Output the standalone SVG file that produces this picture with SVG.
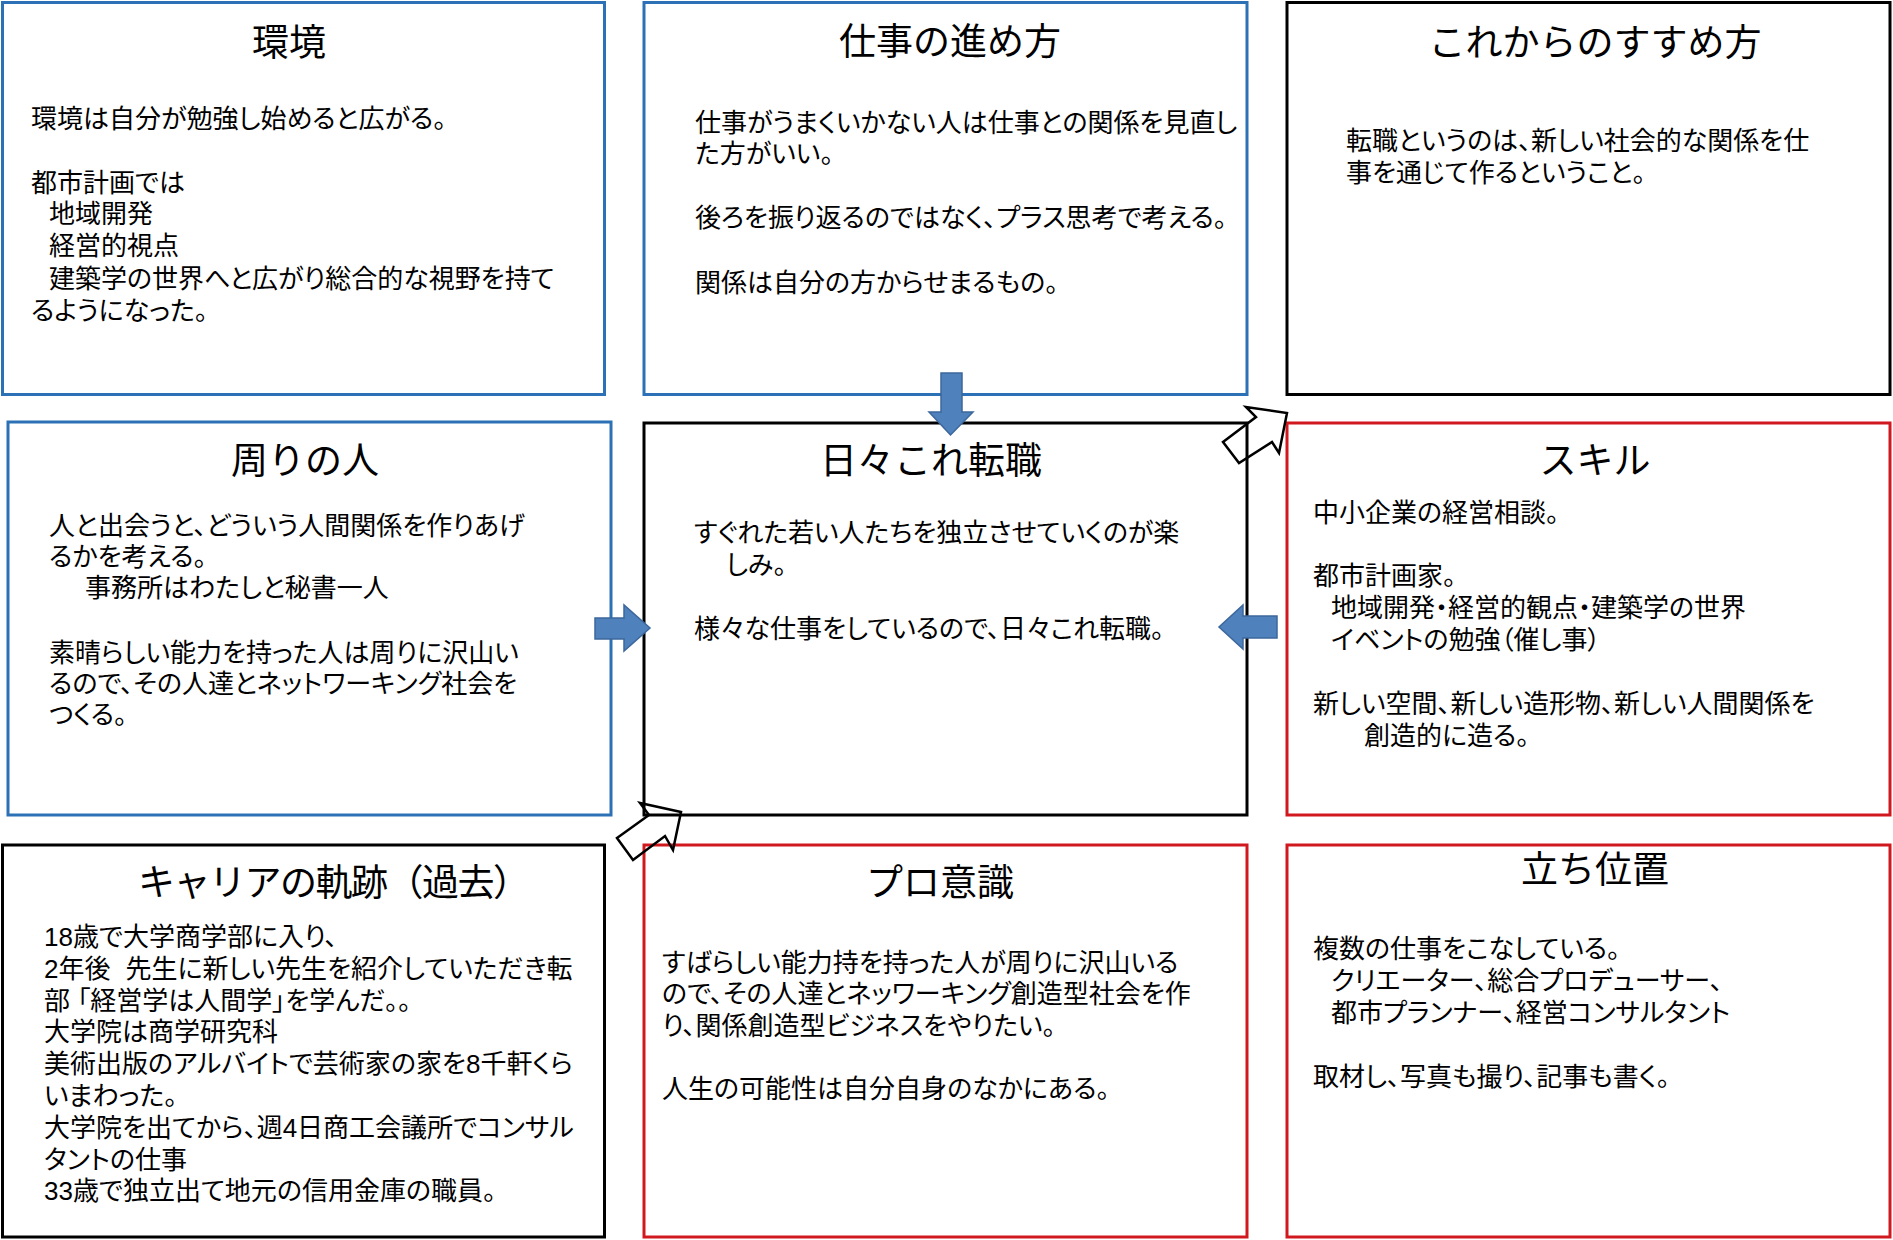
<svg xmlns="http://www.w3.org/2000/svg" width="1893" height="1240" viewBox="0 0 1893 1240">
<style>
.t{font-family:"Noto Sans CJK JP","Noto Sans CJK SC",sans-serif;fill:#000}
.ti{font-size:37px;text-anchor:middle}
.b{font-family:"Liberation Sans","Noto Sans CJK JP","Noto Sans CJK SC",sans-serif;font-size:26px;font-feature-settings:"palt" 1}
.bx{fill:none;stroke-width:3}
.blue{stroke:#2C70B5}
.red{stroke:#D0181E}
.blk{stroke:#000}
.ba{fill:#4F81BD;stroke:#3C679B;stroke-width:1.5}
.oa{fill:none;stroke:#000;stroke-width:2.5;stroke-linejoin:miter}
</style>
<rect width="1893" height="1240" fill="#fff"/>
<g id="kankyo">
<rect class="bx blue" x="2.5" y="2.5" width="602" height="392"/>
<text class="t ti" x="289" y="56">環境</text>
<text class="t b"><tspan x="31" y="128">環境は自分が勉強し始めると広がる。</tspan><tspan x="31" y="192">都市計画では</tspan><tspan x="49" y="223">地域開発</tspan><tspan x="49" y="255">経営的視点</tspan><tspan x="49" y="288">建築学の世界へと広がり総合的な視野を持て</tspan><tspan x="31" y="320">るようになった。</tspan></text>
</g>
<g id="shigoto">
<rect class="bx blue" x="644" y="2.5" width="603" height="392"/>
<text class="t ti" x="950" y="55">仕事の進め方</text>
<text class="t b"><tspan x="695" y="132">仕事がうまくいかない人は仕事との関係を見直し</tspan><tspan x="695" y="163">た方がいい。</tspan></text>
<text class="t b" x="695" y="227">後ろを振り返るのではなく、プラス思考で考える。</text>
<text class="t b" x="695" y="292">関係は自分の方からせまるもの。</text>
</g>
<g id="korekara">
<rect class="bx blk" x="1287" y="2.5" width="603" height="392"/>
<text class="t ti" x="1595" y="56">これからのすすめ方</text>
<text class="t b"><tspan x="1346" y="150">転職というのは、新しい社会的な関係を仕</tspan><tspan x="1346" y="182">事を通じて作るということ。</tspan></text>
</g>
<g id="mawari">
<rect class="bx blue" x="8" y="422" width="603" height="393"/>
<text class="t ti" x="305" y="474">周りの人</text>
<text class="t b"><tspan x="49" y="535">人と出会うと、どういう人間関係を作りあげ</tspan><tspan x="49" y="566">るかを考える。</tspan><tspan x="85" y="597">事務所はわたしと秘書一人</tspan></text>
<text class="t b"><tspan x="49" y="662">素晴らしい能力を持った人は周りに沢山い</tspan><tspan x="49" y="693">るので、その人達とネットワーキング社会を</tspan><tspan x="49" y="724">つくる。</tspan></text>
</g>
<g id="hibi">
<rect class="bx blk" x="644" y="423" width="603" height="392"/>
<text class="t ti" x="931" y="474">日々これ転職</text>
<text class="t b"><tspan x="694" y="542">すぐれた若い人たちを独立させていくのが楽</tspan><tspan x="726" y="574">しみ。</tspan></text>
<text class="t b" x="694" y="638">様々な仕事をしているので、日々これ転職。</text>
</g>
<g id="skill">
<rect class="bx red" x="1287" y="423" width="603" height="392"/>
<text class="t ti" x="1595" y="474">スキル</text>
<text class="t b" x="1313" y="522">中小企業の経営相談。</text>
<text class="t b"><tspan x="1313" y="585">都市計画家。</tspan><tspan x="1331" y="617">地域開発・経営的観点・建築学の世界</tspan><tspan x="1331" y="649">イベントの勉強（催し事）</tspan></text>
<text class="t b"><tspan x="1313" y="713">新しい空間、新しい造形物、新しい人間関係を</tspan><tspan x="1364" y="745">創造的に造る。</tspan></text>
</g>
<g id="career">
<rect class="bx blk" x="2.5" y="845" width="602" height="392"/>
<text class="t ti" x="138" y="896" style="text-anchor:start" textLength="392" lengthAdjust="spacing">キャリアの軌跡（過去）</text>
<text class="t b"><tspan x="44" y="946">18歳で大学商学部に入り、</tspan><tspan x="44" y="978">2年後<tspan style="font-size:15px">　</tspan>先生に新しい先生を紹介していただき転</tspan><tspan x="44" y="1010">部 「経営学は人間学」を学んだ。。</tspan><tspan x="44" y="1041">大学院は商学研究科</tspan><tspan x="44" y="1073">美術出版のアルバイトで芸術家の家を8千軒くら</tspan><tspan x="44" y="1105">いまわった。</tspan><tspan x="44" y="1137">大学院を出てから、週4日商工会議所でコンサル</tspan><tspan x="44" y="1169">タントの仕事</tspan><tspan x="44" y="1200">33歳で独立出て地元の信用金庫の職員。</tspan></text>
</g>
<g id="pro">
<rect class="bx red" x="644" y="845" width="603" height="392"/>
<text class="t ti" x="940" y="896">プロ意識</text>
<text class="t b"><tspan x="662" y="972">すばらしい能力持を持った人が周りに沢山いる</tspan><tspan x="662" y="1003">ので、その人達とネッワーキング創造型社会を作</tspan><tspan x="662" y="1035">り、関係創造型ビジネスをやりたい。</tspan></text>
<text class="t b" x="662" y="1098">人生の可能性は自分自身のなかにある。</text>
</g>
<g id="tachiichi">
<rect class="bx red" x="1287" y="845" width="603" height="392"/>
<text class="t ti" x="1595" y="883">立ち位置</text>
<text class="t b"><tspan x="1313" y="958">複数の仕事をこなしている。</tspan><tspan x="1331" y="990">クリエーター、総合プロデューサー、</tspan><tspan x="1331" y="1022">都市プランナー、経営コンサルタント</tspan></text>
<text class="t b" x="1313" y="1086">取材し、写真も撮り、記事も書く。</text>
</g>
<g id="connectors">
<polygon class="ba" points="941,373 962,373 962,412 973,412 950.5,435 929,412 941,412"/>
<polygon class="ba" points="595,618 624,618 624,605 650,628 624,651 624,639 595,639"/>
<polygon class="ba" points="1277,616 1243,616 1243,605 1219,627 1243,649 1243,638 1277,638"/>
<polygon class="oa" points="1287,413 1279,453 1272,442 1239,463 1223,442 1256,417 1246,407"/>
<polygon class="oa" points="681,812 673,850 665,836 633,860 617,838 649,815 640,803"/>
</g>
</svg>
